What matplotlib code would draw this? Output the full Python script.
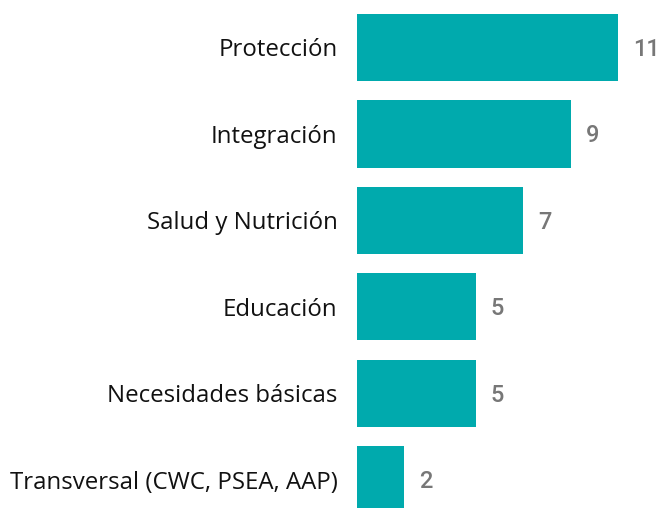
import matplotlib
matplotlib.use("Agg")
import matplotlib.pyplot as plt

categories = ["Protección", "Integración", "Salud y Nutrición", "Educación",
              "Necesidades básicas", "Transversal (CWC, PSEA, AAP)"]
values = [11, 9, 7, 5, 5, 2]

fig = plt.figure(figsize=(6.61, 5.08), dpi=100)
ax = fig.add_axes([0.540, 0.0, 0.431, 1.0])
ypos = list(range(len(categories)))
ax.barh(ypos, values, height=0.775, color="#00AAAD")
ax.set_xlim(0, 12)
ax.set_ylim(5.324, -0.549)
ax.set_yticks(ypos)
ax.set_yticklabels(categories, fontsize=17.3, family=["Open Sans", "DejaVu Sans"], color="#111111")
ax.tick_params(axis="y", length=0, pad=14)
ax.set_xticks([])
for s in ax.spines.values():
    s.set_visible(False)
for y, v in zip(ypos, values):
    ax.annotate(str(v), (v, y), xytext=(15, -2), textcoords="offset pixels",
                va="center", ha="left", fontsize=17, color="#777777",
                family=["Roboto", "DejaVu Sans"], fontweight="medium")
fig.savefig("out.png", dpi=100)
